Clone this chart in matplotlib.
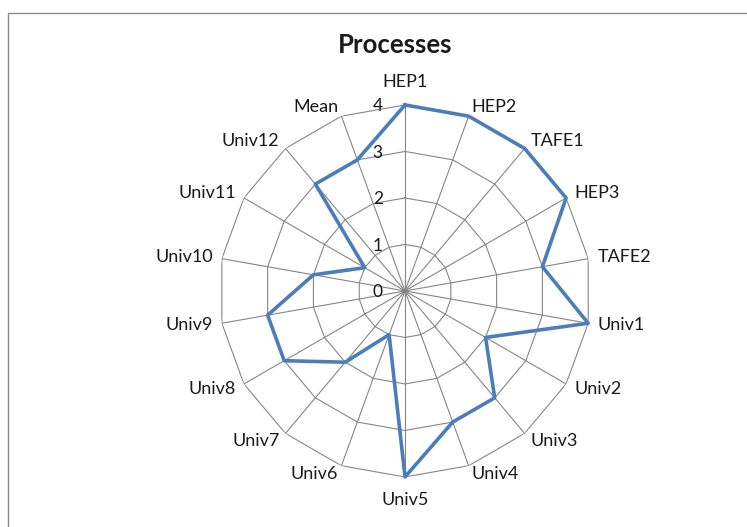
# Radar chart - Processes
import numpy as np
import matplotlib.pyplot as plt
from matplotlib.patches import Rectangle

plt.rcParams['font.family'] = ['Lato', 'DejaVu Sans']

# categorias e valores
categorias = ['HEP1', 'HEP2', 'TAFE1', 'HEP3', 'TAFE2', 'Univ1', 'Univ2', 'Univ3',
              'Univ4', 'Univ5', 'Univ6', 'Univ7', 'Univ8', 'Univ9', 'Univ10',
              'Univ11', 'Univ12', 'Mean']
valores = [4, 4, 4, 4, 3, 4, 2, 3, 3, 4, 1, 2, 3, 3, 2, 1, 3, 3]
niveis = [0, 1, 2, 3, 4]
titulo = 'Processes'

n = len(categorias)
angulos = np.linspace(0, 2 * np.pi, n, endpoint=False)
ang_fech = np.append(angulos, angulos[0])
val_fech = valores + valores[:1]

fig = plt.figure(figsize=(7.47, 5.27), dpi=100)

# moldura do gráfico
fig.patches.append(Rectangle((8 / 747, -0.1), 1.2, 1 - 13 / 527 + 0.1,
                             transform=fig.transFigure, fill=False,
                             edgecolor='#8c8c8c', lw=1.0))

ax = fig.add_axes([0.2932, 0.0949, 0.498, 0.706], projection='polar')
ax.set_theta_offset(np.pi / 2)
ax.set_theta_direction(-1)
ax.set_ylim(0, max(niveis))
ax.grid(False)
ax.spines['polar'].set_visible(False)
ax.set_xticks([])
ax.set_yticks([])
ax.patch.set_alpha(0)

cinza = '#868686'
# anéis poligonais
for r in niveis[1:]:
    ax.plot(ang_fech, [r] * (n + 1), color=cinza, lw=0.8, zorder=1)
# raios
for a in angulos:
    ax.plot([a, a], [0, max(niveis)], color=cinza, lw=0.8, zorder=1)

# série
ax.plot(ang_fech, val_fech, color='#4a7ebb', lw=2.6, zorder=3, clip_on=False)

# rótulos das categorias
for a, nome in zip(angulos, categorias):
    s, c = np.sin(a), np.cos(a)
    ha = 'left' if s > 0.05 else ('right' if s < -0.05 else 'center')
    raio = 4.2
    if abs(s) < 0.05:
        va = 'bottom' if c > 0 else 'top'
        raio = 4.33
    else:
        va = 'center'
    ax.text(a, raio, nome, ha=ha, va=va, fontsize=13, color='#1a1a1a')

# rótulos do eixo radial
for r in niveis:
    ax.annotate(str(r), xy=(0, r), xytext=(-16, -1), textcoords='offset points',
                ha='right', va='center', fontsize=12.5, color='#1a1a1a')

fig.text(395 / 747, 1 - 45 / 527, titulo, ha='center', va='center',
         fontsize=18.5, fontweight='bold', color='#1a1a1a')

fig.savefig('out.png', dpi=100)
